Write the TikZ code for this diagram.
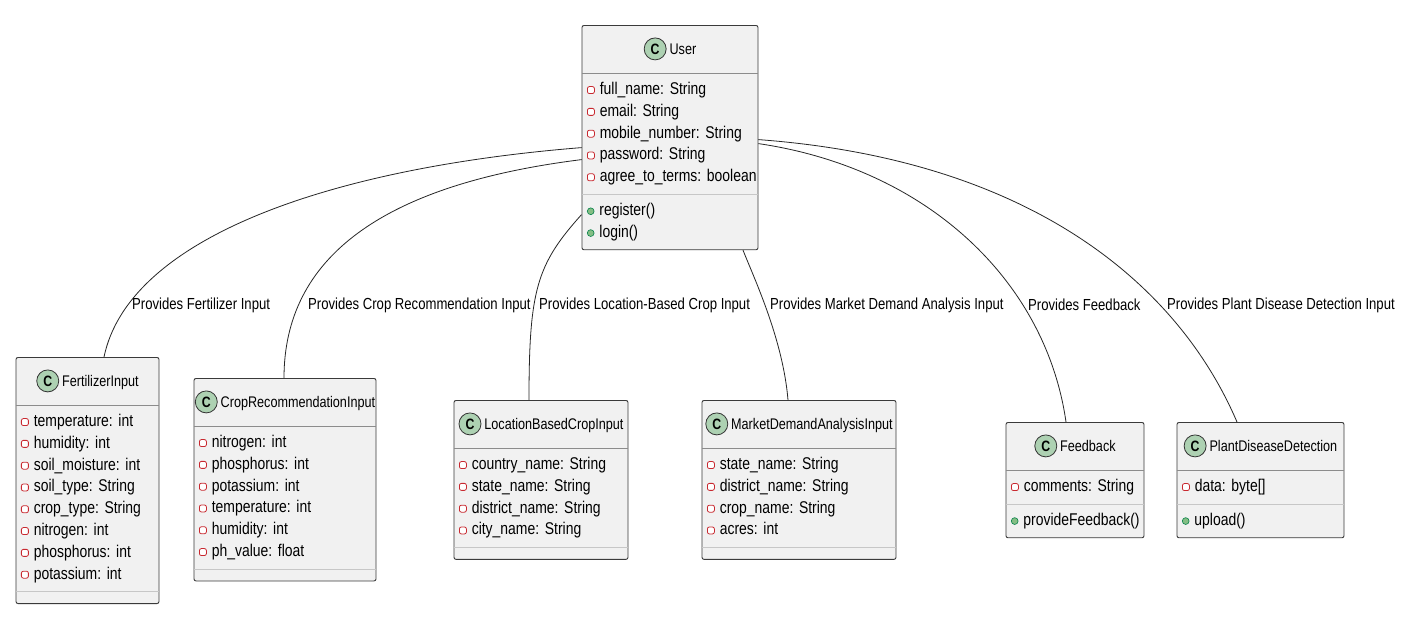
\documentclass[tikz,border=0pt]{standalone}
\usepackage{fontspec}
\setmainfont{Liberation Sans}[FakeStretch=0.82]
\usetikzlibrary{shapes.multipart}
\frenchspacing

\definecolor{boxfill}{HTML}{F1F1F1}
\definecolor{boxline}{HTML}{3A3A3A}
\definecolor{spotfill}{HTML}{ADD1B2}
\definecolor{privred}{HTML}{C82930}
\definecolor{pubgreen}{HTML}{038048}
\definecolor{pubfill}{HTML}{84BE84}

\tikzset{
  umlclass/.style={rectangle split, rectangle split parts=3,
    rectangle split draw splits=false, draw=boxline, fill=boxfill,
    line width=0.9pt, rounded corners=2pt, text width=#1,
    inner xsep=5pt, inner ysep=5.5pt, align=left, anchor=north,
    font=\fontsize{17}{21.8}\selectfont},
  cspot/.style={circle, draw=black!80, fill=spotfill, line width=0.8pt,
    minimum size=22pt, inner sep=0pt, anchor=center, text width={},
    font=\bfseries\fontsize{15}{15}\selectfont},
  privmark/.style={draw=privred, fill=white, line width=0.8pt},
  pubmark/.style={draw=pubgreen, fill=pubfill, line width=0.6pt},
  headsplit/.style={draw=black!45, line width=0.9pt},
  bodysplit/.style={draw=black!22, line width=0.9pt},
  provides/.style={anchor=west, inner sep=0pt, font=\fontsize{16}{18}\selectfont},
  assoc/.style={draw=black!85, line width=0.8pt}
}

\newcommand{\chead}[1]{\makebox[\linewidth][c]{\rule[-13pt]{0pt}{36pt}%
  \tikz[baseline=-5.5pt]\node[cspot]{C};\hspace{3pt}{\fontsize{15.4}{17}\selectfont#1}}}
\newcommand{\priv}{\tikz[baseline=-1pt]\draw[privmark] (0pt,0pt) rectangle (7pt,7pt);\hspace{5pt}}
\newcommand{\pub}{\tikz[baseline=-0.8pt]\draw[pubmark] (3.4pt,3.4pt) circle (3.4pt);\hspace{5pt}}
\newcommand{\fld}[1]{\strut\mbox{\priv#1}}
\newcommand{\mth}[1]{\strut\mbox{\pub#1}}

\begin{document}
\begin{tikzpicture}[x=1pt,y=-1pt]
    \path[use as bounding box, fill=white] (0,0) rectangle (1425,625);

    % classes
    \node[umlclass=166pt] (user) at (670,25) {\chead{User}
      \nodepart{two}\fld{full\_name: String}\\\fld{email: String}\\\fld{mobile\_number: String}\\\fld{password: String}\\\fld{agree\_to\_terms: boolean}
      \nodepart{three}\mth{register()}\\\mth{login()}};
    \node[umlclass=133pt] (fert) at (87.5,357) {\chead{FertilizerInput}
      \nodepart{two}\fld{temperature: int}\\\fld{humidity: int}\\\fld{soil\_moisture: int}\\\fld{soil\_type: String}\\\fld{crop\_type: String}\\\fld{nitrogen: int}\\\fld{phosphorus: int}\\\fld{potassium: int}
      \nodepart{three}};
    \node[umlclass=172pt] (crop) at (285,378) {\chead{CropRecommendationInput}
      \nodepart{two}\fld{nitrogen: int}\\\fld{phosphorus: int}\\\fld{potassium: int}\\\fld{temperature: int}\\\fld{humidity: int}\\\fld{ph\_value: float}
      \nodepart{three}};
    \node[umlclass=164pt] (loc) at (541,400) {\chead{LocationBasedCropInput}
      \nodepart{two}\fld{country\_name: String}\\\fld{state\_name: String}\\\fld{district\_name: String}\\\fld{city\_name: String}
      \nodepart{three}};
    \node[umlclass=184pt] (mkt) at (799,400) {\chead{MarketDemandAnalysisInput}
      \nodepart{two}\fld{state\_name: String}\\\fld{district\_name: String}\\\fld{crop\_name: String}\\\fld{acres: int}
      \nodepart{three}};
    \node[umlclass=128pt] (fb) at (1075,422) {\chead{Feedback}
      \nodepart{two}\fld{comments: String}
      \nodepart{three}\mth{provideFeedback()}};
    \node[umlclass=157pt] (pdd) at (1260.5,422) {\chead{PlantDiseaseDetection}
      \nodepart{two}\fld{data: byte[]}
      \nodepart{three}\mth{upload()}};

    % compartment lines
    \draw[headsplit] (user.text split west) -- (user.text split east);
    \draw[bodysplit] (user.two split west) -- (user.two split east);
    \draw[headsplit] (fert.text split west) -- (fert.text split east);
    \draw[bodysplit] (fert.two split west) -- (fert.two split east);
    \draw[headsplit] (crop.text split west) -- (crop.text split east);
    \draw[bodysplit] (crop.two split west) -- (crop.two split east);
    \draw[headsplit] (loc.text split west) -- (loc.text split east);
    \draw[bodysplit] (loc.two split west) -- (loc.two split east);
    \draw[headsplit] (mkt.text split west) -- (mkt.text split east);
    \draw[bodysplit] (mkt.two split west) -- (mkt.two split east);
    \draw[headsplit] (fb.text split west) -- (fb.text split east);
    \draw[bodysplit] (fb.two split west) -- (fb.two split east);
    \draw[headsplit] (pdd.text split west) -- (pdd.text split east);
    \draw[bodysplit] (pdd.two split west) -- (pdd.two split east);

    % associations
    \draw[assoc] ([yshift=-10pt]user.west) .. controls +(-250,20) and +(25,-120) .. ([xshift=16.5pt]fert.north);
    \draw[assoc] ([yshift=-22pt]user.west) .. controls +(-200,25) and +(0,-120) .. ([xshift=-1pt]crop.north);
    \draw[assoc] ([yshift=-77pt]user.west) .. controls +(-45,50) and +(0,-110) .. ([xshift=-12pt]loc.north);
    \draw[assoc] ([xshift=73pt]user.south) .. controls +(12,30) and +(-5,-60) .. ([xshift=-11pt]mkt.north);
    \draw[assoc] ([yshift=-6pt]user.east) .. controls +(170,25) and +(-20,-140) .. ([xshift=-9pt]fb.north);
    \draw[assoc] ([yshift=-2pt]user.east) .. controls +(270,20) and +(-60,-140) .. ([xshift=-23.5pt]pdd.north);

    \node[provides] (lfert) at (132,305) {Provides Fertilizer Input};
    \node[provides] (lcrop) at (308,305) {Provides Crop Recommendation Input};
    \node[provides] (lloc) at (539,305) {Provides Location-Based Crop Input};
    \node[provides] (lmkt) at (770,305) {Provides Market Demand Analysis Input};
    \node[provides] (lfb) at (1028,305) {Provides Feedback};
    \node[provides] (lpdd) at (1167,305) {Provides Plant Disease Detection Input};
\end{tikzpicture}
\end{document}
